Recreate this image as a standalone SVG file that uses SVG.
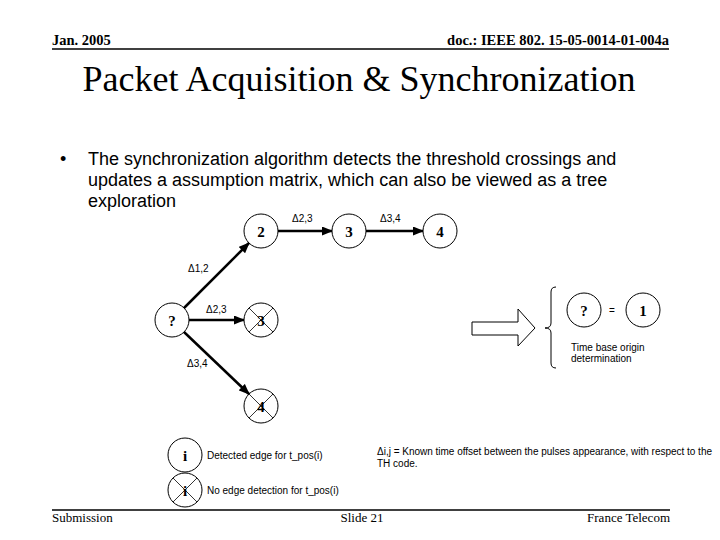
<svg xmlns="http://www.w3.org/2000/svg" width="720" height="540" viewBox="0 0 720 540">
<style>
.hdr{font-family:"Liberation Serif",serif;font-weight:bold;font-size:14.5px;fill:#000}
.ftr{font-family:"Liberation Serif",serif;font-size:13px;fill:#000}
.title{font-family:"Liberation Serif",serif;font-size:36px;fill:#000}
.body{font-family:"Liberation Sans",Arial,sans-serif;font-size:18px;fill:#000}
.lbl{font-family:"Liberation Sans",Arial,sans-serif;font-size:10px;fill:#000}
.num{font-family:"Liberation Serif",serif;font-weight:bold;font-size:15px;fill:#000;text-anchor:middle;dominant-baseline:central}
.node{fill:#fff;stroke:#000;stroke-width:1}
.x{stroke:#000;stroke-width:0.8}
.edge{stroke:#000;stroke-width:2.5;fill:none;marker-end:url(#ah)}
.rule{stroke:#000;stroke-width:1.5}
</style>
<defs>
<marker id="ah" markerUnits="userSpaceOnUse" markerWidth="11" markerHeight="9" refX="10" refY="4.5" orient="auto">
<path d="M0,0 L11,4.5 L0,9 z" fill="#000"/>
</marker>
</defs>
<rect width="720" height="540" fill="#fff"/>

<g id="header">
<text class="hdr" x="52" y="45">Jan. 2005</text>
<text class="hdr" x="669" y="45" text-anchor="end">doc.: IEEE 802. 15-05-0014-01-004a</text>
<line class="rule" x1="52" y1="49" x2="669" y2="49"/>
</g>

<text class="title" x="359" y="91" text-anchor="middle">Packet Acquisition &amp; Synchronization</text>

<g id="bullet">
<text class="body" x="60" y="165">•</text>
<text class="body" x="88" y="165">The synchronization algorithm detects the threshold crossings and</text>
<text class="body" x="88" y="186">updates a assumption matrix, which can also be viewed as a tree</text>
<text class="body" x="88" y="207">exploration</text>
</g>

<g id="connectors">
<line class="edge" x1="278" y1="231" x2="332" y2="231"/>
<line class="edge" x1="366" y1="231" x2="423" y2="231"/>
<line class="edge" x1="184" y1="308" x2="249" y2="243"/>
<line class="edge" x1="189" y1="320" x2="244" y2="320"/>
<line class="edge" x1="184" y1="332" x2="249" y2="394"/>
<text class="lbl" x="292" y="222">Δ2,3</text>
<text class="lbl" x="380" y="222">Δ3,4</text>
<text class="lbl" x="188" y="272">Δ1,2</text>
<text class="lbl" x="206" y="313">Δ2,3</text>
<text class="lbl" x="187" y="367">Δ3,4</text>
</g>

<g id="node-2"><circle class="node" cx="261" cy="231" r="17"/><text class="num" x="261" y="232">2</text></g>
<g id="node-3"><circle class="node" cx="349" cy="231" r="17"/><text class="num" x="349" y="232">3</text></g>
<g id="node-4"><circle class="node" cx="440" cy="231" r="17"/><text class="num" x="440" y="232">4</text></g>
<g id="node-q"><circle class="node" cx="172" cy="320" r="17"/><text class="num" x="172" y="321">?</text></g>
<g id="node-x3"><circle class="node" cx="261" cy="320" r="17"/><text class="num" x="261" y="321">3</text>
<line class="x" x1="249" y1="308" x2="273" y2="332"/><line class="x" x1="273" y1="308" x2="249" y2="332"/></g>
<g id="node-x4"><circle class="node" cx="261" cy="406" r="17"/><text class="num" x="261" y="407">4</text>
<line class="x" x1="249" y1="394" x2="273" y2="418"/><line class="x" x1="273" y1="394" x2="249" y2="418"/></g>

<g id="result">
<polygon points="472,322 518,322 518,309 535,328 518,346 518,335 472,335" fill="#fff" stroke="#000" stroke-width="1"/>
<path d="M556,287 Q551,287 551,292 L551,323 Q551,328 545,328 Q551,328 551,333 L551,363 Q551,368 556,368" fill="none" stroke="#000" stroke-width="1"/>
<g id="node-rq"><circle class="node" cx="584" cy="310" r="17"/><text class="num" x="584" y="311">?</text></g>
<text class="lbl" x="612" y="314" font-size="13" text-anchor="middle">=</text>
<g id="node-r1"><circle class="node" cx="643" cy="310" r="17"/><text class="num" x="643" y="311">1</text></g>
<text class="lbl" x="571" y="351">Time base origin</text>
<text class="lbl" x="571" y="362">determination</text>
</g>

<g id="legend">
<g id="legend-i"><circle class="node" cx="185" cy="455" r="17"/><text class="num" x="185" y="456">i</text></g>
<text class="lbl" x="207" y="459">Detected edge for t_pos(i)</text>
<g id="legend-xi"><circle class="node" cx="185" cy="490" r="17"/><text class="num" x="185" y="491">i</text>
<line class="x" x1="173" y1="478" x2="197" y2="502"/><line class="x" x1="197" y1="478" x2="173" y2="502"/></g>
<text class="lbl" x="207" y="494">No edge detection for t_pos(i)</text>
<text class="lbl" x="377" y="455" textLength="335" lengthAdjust="spacing">Δi,j = Known time offset between the pulses appearance, with respect to the</text>
<text class="lbl" x="377" y="467">TH code.</text>
</g>

<g id="footer">
<line class="rule" x1="52" y1="510" x2="670" y2="510"/>
<text class="ftr" x="52" y="522">Submission</text>
<text class="ftr" x="362" y="522" text-anchor="middle">Slide 21</text>
<text class="ftr" x="670" y="522" text-anchor="end">France Telecom</text>
</g>
</svg>
